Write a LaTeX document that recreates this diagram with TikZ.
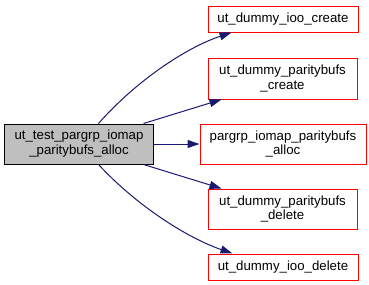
\documentclass[tikz,border=0pt]{standalone}
\usepackage{fontspec}
\setmainfont{Liberation Sans}
\usetikzlibrary{arrows.meta,calc}
\definecolor{edgeblue}{HTML}{191970}
\definecolor{boxred}{HTML}{FF0000}
\begin{document}
\begin{tikzpicture}[x=1bp,y=-1bp,
  fn/.style={draw=boxred, fill=white, line width=1bp, font=\fontsize{13.3}{15}\selectfont, align=center, inner sep=0pt, anchor=north west},
  root/.style={fn, draw=black, fill=black!25},
  call/.style={draw=edgeblue, line width=1bp, -{Triangle[length=12bp,width=8bp]}}]
\useasboundingbox (0,0) rectangle (369,285);
% caller
\node[root, minimum width=148bp, minimum height=40bp] (root) at (4.5,123.5) {ut\_test\_pargrp\_iomap\\\_paritybufs\_alloc};
% callees
\node[fn, minimum width=150bp, minimum height=26bp] (n1) at (207.5,5.5) {ut\_dummy\_ioo\_create};
\node[fn, minimum width=149bp, minimum height=41bp] (n2) at (207.5,57.5) {ut\_dummy\_paritybufs\\\_create};
\node[fn, minimum width=166bp, minimum height=40bp] (n3) at (199.5,123.5) {pargrp\_iomap\_paritybufs\\\_alloc};
\node[fn, minimum width=149bp, minimum height=40bp] (n4) at (207.5,188.5) {ut\_dummy\_paritybufs\\\_delete};
\node[fn, minimum width=150bp, minimum height=26bp] (n5) at (207.5,253.5) {ut\_dummy\_ioo\_delete};
% call edges
\draw[call] ($(root.north west)+(94,0)$) .. controls (135,82) and (185,48) .. ($(n1.south west)+(24,0)$);
\draw[call] ($(root.north east)+(-10,0)$) -- ($(n2.south west)+(14,0)$);
\draw[call] (root.east) -- (n3.west);
\draw[call] ($(root.south east)+(-10,0)$) -- ($(n4.north west)+(14,0)$);
\draw[call] ($(root.south west)+(94,0)$) .. controls (135,204) and (185,237) .. ($(n5.north west)+(25,0)$);
\end{tikzpicture}
\end{document}
